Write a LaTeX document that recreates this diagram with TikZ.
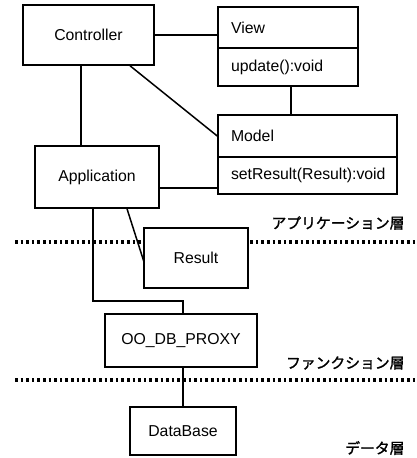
\documentclass[tikz,border=0pt]{standalone}
\usepackage{fontspec}
\setmainfont{Liberation Sans}
\newfontfamily\cjk[FakeBold=1.5]{Noto Sans CJK JP}
\usetikzlibrary{positioning}

\tikzset{
    cls/.style={draw, line width=1.5pt, fill=white, inner sep=0pt,
        font=\fontsize{15.8}{18}\selectfont},
    part/.style={cls, text width=114pt, inner xsep=13pt, align=left},
    link/.style={line width=1.5pt},
    layer/.style={line width=4pt, dash pattern=on 2.6pt off 3pt},
    layername/.style={anchor=east, font=\cjk\fontsize{14.8}{16}\selectfont}
}

\begin{document}
\begin{tikzpicture}[x=1pt, y=-1pt]
        \useasboundingbox (0, 0) rectangle (417, 458);

        % layer borders
        \draw[layer] (15, 242) -- (417, 242);
        \draw[layer] (15, 380) -- (417, 380);
        \node[layername] (applayer) at (408, 223) {アプリケーション層};
        \node[layername] (funclayer) at (408, 363) {ファンクション層};
        \node[layername] (datalayer) at (408, 448) {データ層};

        % classes
        \node[cls, minimum width=131, minimum height=60] (ctrl) at (88.5, 35) {Controller};
        \node[part, minimum height=41] (view) at (288, 27.5) {View};
        \node[part, minimum height=38] (viewops) at (288, 67) {update():void};
        \node[part, text width=153pt, minimum height=42] (model) at (307.5, 136) {Model};
        \node[part, text width=153pt, minimum height=37] (modelops) at (307.5, 175.5) {setResult(Result):void};
        \node[cls, minimum width=124, minimum height=62] (app) at (97, 177) {Application};

        % links in the application layer
        \draw[link] (ctrl.east) -- (ctrl.east -| view.west);
        \draw[link] ([xshift=41.5pt]ctrl.south) -- (model.west);
        \draw[link] ([xshift=3pt]viewops.south) -- ([xshift=3pt]viewops.south |- model.north);
        \draw[link] ([xshift=-7.5pt]ctrl.south) -- ([xshift=-7.5pt]ctrl.south |- app.north);
        \draw[link] ([yshift=-11pt]app.east) -- ([yshift=-11pt]app.east -| modelops.west);

        % links down to the data
        \draw[link] ([xshift=-4pt]app.south) -- ++(0, 92) -| (183, 314);
        \draw[link] ([xshift=30pt]app.south) -- (144, 262);
        \draw[link] (183, 367) -- (183, 407);

        \node[cls, minimum width=104, minimum height=60] (result) at (196, 258) {Result};
        \node[cls, minimum width=152, minimum height=53] (proxy) at (181, 340.5) {OO\_DB\_PROXY};
        \node[cls, minimum width=106, minimum height=48] (db) at (183, 431) {DataBase};
\end{tikzpicture}
\end{document}
